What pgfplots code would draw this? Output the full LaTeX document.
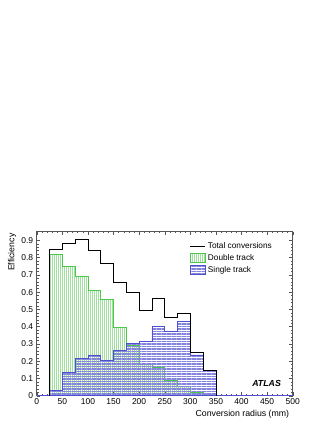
\documentclass[border=0pt]{standalone}
\usepackage{fontspec}
\setmainfont{Liberation Sans}
\usepackage{pgfplots}
\pgfplotsset{compat=1.18}
\usetikzlibrary{patterns.meta}
\definecolor{totc}{HTML}{000000}
\definecolor{dbl}{HTML}{4CC84C}
\definecolor{dblfill}{HTML}{9FE09F}
\definecolor{sgl}{HTML}{4F4FD0}
\definecolor{sglfill}{HTML}{8484DC}
\definecolor{frame}{HTML}{555555}
\pgfplotsset{
  boxlegend/.style={legend image code/.code={\draw[##1] (0bp,-4.5bp) rectangle (15bp,4.5bp);}},
  linelegend/.style={legend image code/.code={\draw[##1] (0bp,0bp) -- (15bp,0bp);}},
}

% bin lower edges, 25 mm bins
\pgfplotstableread{
x    tot    dbl    sgl
0    0      0      0
25   0.850  0.819  0.033
50   0.880  0.750  0.133
75   0.906  0.692  0.218
100  0.840  0.611  0.231
125  0.765  0.557  0.206
150  0.655  0.393  0.262
175  0.600  0.293  0.303
200  0.497  0.183  0.314
225  0.565  0.166  0.399
250  0.453  0.087  0.372
275  0.476  0.056  0.430
300  0.250  0.019  0.236
325  0.148  0.010  0.148
350  0      0      0
500  0      0      0
}\conv
\pgfplotstableread{
x    tot
25   0
25   0.850
50   0.880
75   0.906
100  0.840
125  0.765
150  0.655
175  0.600
200  0.497
225  0.565
250  0.453
275  0.476
300  0.250
325  0.148
350  0
}\total

\begin{document}
\begin{tikzpicture}
\begin{axis}[
  at={(0,0)}, anchor=south west,
  scale only axis,
  width=256bp, height=164bp,
  xmin=0, xmax=500, ymin=0, ymax=0.95,
  xtick={0,50,...,500},
  ytick={0,0.1,...,0.9},
  minor x tick num=4,
  minor y tick num=4,
  tick align=inside,
  major tick length=3.5bp,
  minor tick length=1.8bp,
  every tick/.style={frame, line width=0.4pt},
  axis line style={frame, line width=0.6pt},
  xtick pos=both, ytick pos=both,
  tick label style={font=\fontsize{8.5}{9}\selectfont},
  /pgf/number format/assume math mode=true,
  yticklabel style={/pgf/number format/.cd, fixed, precision=1},
  xticklabel style={yshift=1bp},
  xlabel={Conversion radius (mm)},
  ylabel={Efficiency},
  label style={font=\fontsize{8.8}{10}\selectfont},
  xlabel style={at={(axis description cs:1,0)}, anchor=north east, yshift=-11bp},
  ylabel style={at={(axis description cs:-0.096,1.01)}, anchor=east},
  legend style={at={(0.585,0.955)}, anchor=north west, draw=none, fill=none,
    font=\fontsize{8.3}{9}\selectfont, row sep=2.2bp,
    nodes={inner ysep=1pt, inner xsep=2.5pt}},
  legend cell align=left,
  clip=true,
]
\addplot[const plot mark left, totc, line width=0.8pt, linelegend]
  table[x=x, y=tot] {\total};
\addlegendentry{Total conversions}
\addplot[const plot mark left, dbl, line width=0.8pt,
  pattern={Lines[angle=90, distance=2bp, line width=1bp]}, pattern color=dblfill,
  boxlegend]
  table[x=x, y=dbl] {\conv} \closedcycle;
\addlegendentry{Double track}
\addplot[const plot mark left, sgl, line width=0.8pt,
  pattern={Lines[angle=0, distance=2.5bp, line width=1.6bp]}, pattern color=sglfill,
  boxlegend]
  table[x=x, y=sgl] {\conv} \closedcycle;
\addlegendentry{Single track}
\addplot[const plot mark left, totc, line width=0.8pt, forget plot] table[x=x, y=tot] {\total};
\node[font=\bfseries\itshape\fontsize{8.8}{10}\selectfont] at (axis cs:449,0.073) {ATLAS};
\end{axis}
\path[use as bounding box] (-36.7bp,-33.3bp) rectangle (295.3bp,395.7bp);
\end{tikzpicture}
\end{document}
